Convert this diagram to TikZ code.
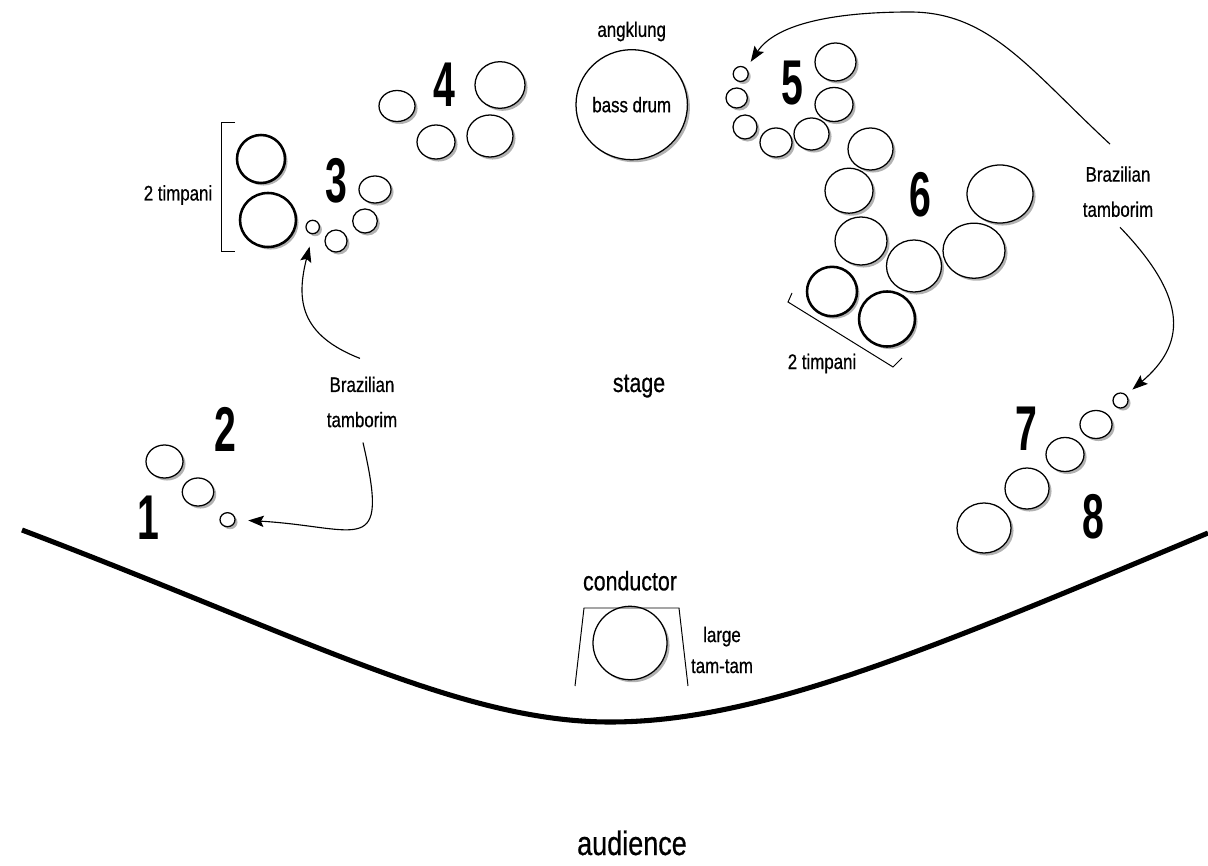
\documentclass[tikz,border=0pt]{standalone}
\usepackage{fontspec}
\setmainfont{Liberation Sans}[FakeStretch=0.8, FakeBold=0.6]
\newfontfamily\numfont{Liberation Sans}[FakeStretch=0.62]
\usetikzlibrary{shapes.geometric}
\usetikzlibrary{shadows}
\usetikzlibrary{positioning}
\usetikzlibrary{arrows.meta}
\tikzset{
	drum/.style 2 args={ellipse, draw=black, line width=0.9pt, fill=white, inner sep=0pt,
		minimum width=#1*0.05cm, minimum height=#2*0.05cm,
		drop shadow={shadow xshift=1.8pt, shadow yshift=-1.8pt, opacity=0.3, fill=black}},
	timp/.style 2 args={drum={#1}{#2}, line width=1.8pt},
}

\begin{document}
\begin{tikzpicture}[x=0.025cm, y=-0.025cm, font=\fontsize{15}{18}\selectfont]
	\tikzstyle{num}=[font=\numfont\bfseries\fontsize{45}{45}\selectfont, inner sep=0pt]
	\tikzstyle{lbl}=[align=center, inner sep=0pt, font=\fontsize{15}{25}\selectfont]
	\tikzstyle{tamarrow}=[-{Stealth[length=11pt, width=8pt, inset=2pt]}, line width=0.8pt]
	\tikzstyle{stageline}=[line width=3.6pt]

	\useasboundingbox (0,0) rectangle (1208,866);

	% edge of the stage
	\draw[stageline] (22,530) .. controls (304,637) and (460,722) .. (610,722)
		.. controls (760,722) and (931,649) .. (1208,533);

	% 1 and 2
	\node[drum={18.5}{16.5}] (d1a) at (164.5,461.5) {};
	\node[drum={15.7}{14}] (d1b) at (198,492) {};
	\node[drum={7.5}{7}] (d1c) at (227.5,519.7) {};
	\node[num] (n1) at (148,518) {1};
	\node[num] (n2) at (225,429) {2};

	% 3
	\node[timp={24}{24}] (t3a) at (261,159) {};
	\node[timp={28}{27}] (t3b) at (268,220) {};
	\node[drum={6.7}{6.7}] (d3a) at (312.7,227) {};
	\node[drum={11}{11}] (d3b) at (336,241) {};
	\node[drum={12.3}{12}] (d3c) at (365,221) {};
	\node[drum={16}{13.5}] (d3d) at (375,189.5) {};
	\node[num] (n3) at (336,181) {3};
	\draw[line width=0.7pt] (235,122) -- (221,122) -- (221,251) -- (235,251);
	\node[anchor=base] (timpL) at (178,200.5) {2 timpani};

	% 4
	\node[drum={18}{15.5}] (d4a) at (397,106) {};
	\node[drum={25}{23.3}] (d4b) at (500,85) {};
	\node[drum={19}{17}] (d4c) at (436,142) {};
	\node[drum={23}{21}] (d4d) at (490,136) {};
	\node[num] (n4) at (444,85) {4};

	% bass drum
	\node[drum={55}{55}] (bass) at (631.7,104.7) {bass drum};
	\node[above=2pt of bass] (angk) {angklung};

	% 5
	\node[drum={7.5}{7.5}] (d5a) at (740.7,74) {};
	\node[drum={10.7}{10}] (d5b) at (736.7,98) {};
	\node[drum={12}{12}] (d5c) at (745,127) {};
	\node[drum={16}{14.5}] (d5d) at (776,142.5) {};
	\node[drum={17.5}{16}] (d5e) at (811.5,134) {};
	\node[drum={19}{17}] (d5f) at (834,104.5) {};
	\node[drum={20.5}{19}] (d5g) at (835.5,62) {};
	\node[num] (n5) at (792,83) {5};

	% 6
	\node[drum={22.5}{21}] (d6a) at (870.5,149) {};
	\node[drum={24}{22.5}] (d6b) at (849,190.7) {};
	\node[drum={33}{29}] (d6c) at (1000,194) {};
	\node[drum={26}{24}] (d6d) at (861,241) {};
	\node[drum={27.5}{26}] (d6e) at (914,266) {};
	\node[drum={31}{27.5}] (d6f) at (974,250.7) {};
	\node[timp={25}{24.7}] (t6a) at (832,291.5) {};
	\node[timp={28}{27.5}] (t6b) at (887,319) {};
	\node[num] (n6) at (920,195) {6};
	\draw[line width=0.7pt] (792,293) -- (788,302) -- (893,367) -- (902,358);
	\node[anchor=base] (timpR) at (822,369) {2 timpani};

	% 7 and 8
	\node[drum={7.5}{7.5}] (d7a) at (1120.5,400.5) {};
	\node[drum={16}{14}] (d7b) at (1096,424.5) {};
	\node[drum={19}{17}] (d7c) at (1065,454.5) {};
	\node[drum={22}{20.5}] (d7d) at (1027,488.5) {};
	\node[drum={27}{25}] (d7e) at (984,528) {};
	\node[num] (n7) at (1026,429) {7};
	\node[num] (n8) at (1093.5,517) {8};

	% tamborims
	\node[lbl] (tamL) at (362,402) {Brazilian\\tamborim};
	\node[lbl] (tamR) at (1118,191.7) {Brazilian\\tamborim};
	\draw[tamarrow, shorten >=9pt] ([shift={(1,15)}]tamL.south) .. controls (390,560) and (360,527) .. (d1c.east);
	\draw[tamarrow, shorten >=9pt] ([shift={(-2,-18)}]tamL.north) .. controls (300,335) and (296,300) .. (d3a.south);
	\draw[tamarrow, shorten >=5.5pt] ([shift={(-8,-22)}]tamR.north) .. controls (1030,70) and (990,12) .. (910,12)
		.. controls (830,12) and (775,25) .. (d5a.north east);
	\draw[tamarrow, shorten >=5.7pt] ([shift={(2,10)}]tamR.south) .. controls (1190,300) and (1185,345) .. (d7a.north east);

	% conductor
	\node[drum={37}{36.7}] (tam) at (630,643) {};
	\draw[line width=0.7pt] (575,686) -- (584,608) -- (679,608) -- (688,686);
	\node[above=10.5pt of tam, font=\fontsize{19}{19}\selectfont, inner sep=0pt] (cond) {conductor};
	\node[lbl, font=\fontsize{15}{22}\selectfont] (large) at (722,650) {large\\tam-tam};

	\node[anchor=base, font=\fontsize{19}{19}\selectfont] (stage) at (639,392) {stage};
	\node[anchor=base, font=\fontsize{24}{24}\selectfont] (aud) at (632,855) {audience};
\end{tikzpicture}
\end{document}
